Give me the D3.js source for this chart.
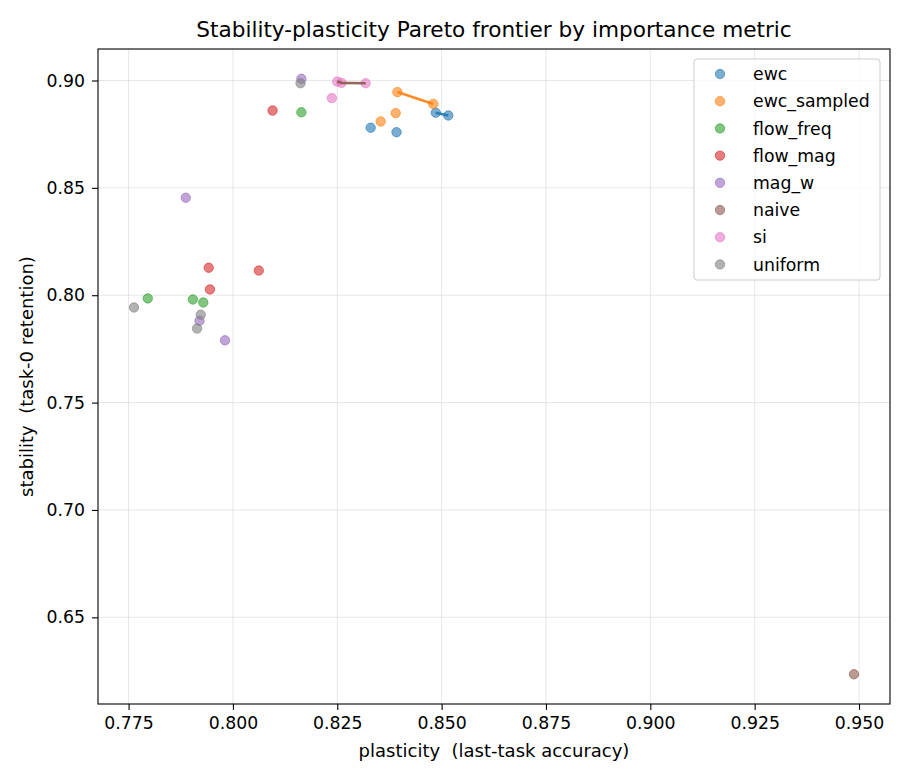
<!DOCTYPE html>
<html>
<head>
<meta charset="utf-8">
<script src="https://cdn.jsdelivr.net/npm/d3@7"></script>
<style>
  body { margin: 0; background: #fff; }
  text { font-family: "DejaVu Sans", sans-serif; fill: #000; white-space: pre; }
</style>
</head>
<body>
<svg id="chart"></svg>
<script>
// methods in legend order
const methods = ["ewc", "ewc_sampled", "flow_freq", "flow_mag", "mag_w", "naive", "si", "uniform"];

// plasticity (x) / stability (y) per run
const ewcX         = [0.8330, 0.8392, 0.8486, 0.8516];
const ewcY         = [0.8780, 0.8759, 0.8850, 0.8837];
const ewcSampledX  = [0.8394, 0.8480, 0.8390, 0.8354];
const ewcSampledY  = [0.8946, 0.8891, 0.8848, 0.8809];
const flowFreqX    = [0.8164, 0.7796, 0.7904, 0.7929];
const flowFreqY    = [0.8852, 0.7985, 0.7980, 0.7966];
const flowMagX     = [0.8095, 0.7942, 0.8062, 0.7945];
const flowMagY     = [0.8860, 0.8128, 0.8115, 0.8027];
const magWX        = [0.8164, 0.7887, 0.7920, 0.7981];
const magWY        = [0.9008, 0.8454, 0.7881, 0.7790];
const naiveX       = [0.9488];
const naiveY       = [0.6235];
const siX          = [0.8250, 0.8260, 0.8318, 0.8237];
const siY          = [0.8995, 0.8989, 0.8987, 0.8918];
const uniformX     = [0.8162, 0.7763, 0.7923, 0.7914];
const uniformY     = [0.8987, 0.7943, 0.7909, 0.7845];

const xTicks = [0.775, 0.800, 0.825, 0.850, 0.875, 0.900, 0.925, 0.950];
const yTicks = [0.65, 0.70, 0.75, 0.80, 0.85, 0.90];

const title = "Stability-plasticity Pareto frontier by importance metric";
const xLabel = "plasticity  (last-task accuracy)";
const yLabel = "stability  (task-0 retention)";

const colors = ["#1f77b4", "#ff7f0e", "#2ca02c", "#d62728", "#9467bd", "#8c564b", "#e377c2", "#7f7f7f"];

const xs = [ewcX, ewcSampledX, flowFreqX, flowMagX, magWX, naiveX, siX, uniformX];
const ys = [ewcY, ewcSampledY, flowFreqY, flowMagY, magWY, naiveY, siY, uniformY];

const width = 910, height = 780;
const margin = { top: 49, right: 20, bottom: 76, left: 98 };
const innerW = width - margin.left - margin.right;
const innerH = height - margin.top - margin.bottom;
const fontSize = 17.3;

const series = methods.map((m, i) => ({
  name: m,
  color: colors[i],
  points: xs[i].map((x, j) => ({ x: x, y: ys[i][j] }))
}));

// pareto frontier: points not beaten on both axes
function frontier(pts) {
  return pts.filter(p => !pts.some(q => q !== p && q.x >= p.x && q.y >= p.y && (q.x > p.x || q.y > p.y)))
    .sort((a, b) => a.x - b.x);
}

const allX = series.flatMap(s => s.points.map(p => p.x));
const allY = series.flatMap(s => s.points.map(p => p.y));
const padX = (d3.max(allX) - d3.min(allX)) * 0.05;
const padY = (d3.max(allY) - d3.min(allY)) * 0.05;

const x = d3.scaleLinear()
  .domain([d3.min(allX) - padX, d3.max(allX) + padX])
  .range([0, innerW]);
const y = d3.scaleLinear()
  .domain([d3.min(allY) - padY, d3.max(allY) + padY])
  .range([innerH, 0]);

const svg = d3.select("#chart")
  .attr("width", width)
  .attr("height", height);

const g = svg.append("g")
  .attr("transform", `translate(${margin.left},${margin.top})`);

// grid
g.append("g").selectAll("line").data(xTicks).join("line")
  .attr("x1", d => x(d)).attr("x2", d => x(d))
  .attr("y1", 0).attr("y2", innerH)
  .attr("stroke", "#b0b0b0").attr("stroke-opacity", 0.3).attr("stroke-width", 1);
g.append("g").selectAll("line").data(yTicks).join("line")
  .attr("y1", d => y(d)).attr("y2", d => y(d))
  .attr("x1", 0).attr("x2", innerW)
  .attr("stroke", "#b0b0b0").attr("stroke-opacity", 0.3).attr("stroke-width", 1);

// points
series.forEach(s => {
  g.append("g").selectAll("circle").data(s.points).join("circle")
    .attr("cx", d => x(d.x))
    .attr("cy", d => y(d.y))
    .attr("r", 4.7)
    .attr("fill", s.color).attr("fill-opacity", 0.6)
    .attr("stroke", s.color).attr("stroke-opacity", 0.6).attr("stroke-width", 1);
});

// frontier lines use their own colour cycle (only methods with >1 run get a line)
let lineIdx = 0;
series.forEach(s => {
  const f = frontier(s.points);
  if (f.length < 2) { if (s.points.length > 1) lineIdx++; return; }
  g.append("path")
    .datum(f)
    .attr("d", d3.line().x(d => x(d.x)).y(d => y(d.y)))
    .attr("fill", "none")
    .attr("stroke", colors[lineIdx % colors.length])
    .attr("stroke-opacity", 0.9)
    .attr("stroke-width", 2.6);
  lineIdx++;
});

// axes
const xAxis = g.append("g")
  .attr("transform", `translate(0,${innerH})`)
  .call(d3.axisBottom(x).tickValues(xTicks).tickFormat(d3.format(".3f")).tickSize(6).tickPadding(7));
const yAxis = g.append("g")
  .call(d3.axisLeft(y).tickValues(yTicks).tickFormat(d3.format(".2f")).tickSize(6).tickPadding(7));
[xAxis, yAxis].forEach(a => {
  a.select(".domain").remove();
  a.selectAll("line").attr("stroke", "#000").attr("stroke-width", 1.1);
  a.selectAll("text").attr("font-size", fontSize).attr("font-family", "DejaVu Sans");
});

g.append("rect")
  .attr("width", innerW).attr("height", innerH)
  .attr("fill", "none").attr("stroke", "#000").attr("stroke-width", 1.1);

// title & labels
svg.append("text")
  .attr("x", margin.left + innerW / 2).attr("y", 37)
  .attr("text-anchor", "middle").attr("font-size", 21.6)
  .text(title);
svg.append("text")
  .attr("x", margin.left + innerW / 2).attr("y", 757)
  .attr("text-anchor", "middle").attr("font-size", 18)
  .text(xLabel);
svg.append("text")
  .attr("transform", `translate(33,${margin.top + innerH / 2}) rotate(-90)`)
  .attr("text-anchor", "middle").attr("font-size", 18)
  .text(yLabel);

// legend
const legend = svg.append("g").attr("transform", "translate(694,59)");
legend.append("rect")
  .attr("width", 186).attr("height", 221).attr("rx", 3)
  .attr("fill", "#fff").attr("fill-opacity", 0.8)
  .attr("stroke", "#cccccc").attr("stroke-width", 1);
const items = legend.selectAll("g.item").data(series).join("g")
  .attr("class", "item")
  .attr("transform", (d, i) => `translate(0,${15 + i * 27.2})`);
items.append("circle")
  .attr("cx", 26).attr("r", 4.7)
  .attr("fill", d => d.color).attr("fill-opacity", 0.6)
  .attr("stroke", d => d.color).attr("stroke-opacity", 0.6);
items.append("text")
  .attr("x", 59).attr("dy", "0.36em")
  .attr("font-size", fontSize)
  .text(d => d.name);
</script>
</body>
</html>
